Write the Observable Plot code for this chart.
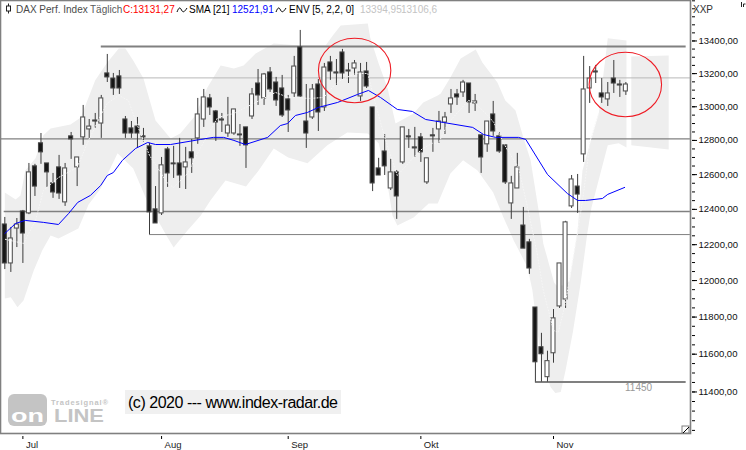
<!DOCTYPE html>
<html><head><meta charset="utf-8">
<style>html,body{margin:0;padding:0;background:#fff}svg{display:block}</style>
<script src="https://cdn.jsdelivr.net/npm/d3@7"></script>
<script src="https://cdn.jsdelivr.net/npm/@observablehq/plot@0.6"></script>
</head><body><div id="chart"></div>
<script>
const opens=[12314,12095,12291,12388,12377,12648,12783,12665,12549,12642,12440,12824,12642,12818,12865,12918,12900,13201,13170,13183,12924,12871,12882,12824,12765,12400,12377,12747,12665,12665,12642,12730,12812,12924,13050,12972,12924,12841,12841,12835,12877,12942,13140,13050,13207,13146,13110,13044,13080,13360,12912,12936,13134,12996,13268,13207,13329,13219,13231,13062,13213,12996,12636,12735,12520,12613,12671,12824,12759,12818,12555,12830,12865,12906,13014,13074,13086,13140,13020,12830,12777,12954,12824,12771,12434,12520,12308,12213,11852,11637,11478,11605,11858,11896,12417,12531,12718,13110,13213,13080,13044,13170,13134,13092];
const closes=[12095,12235,12314,12263,12613,12531,12730,12613,12497,12491,12636,12806,12700,12936,12882,12912,13050,13177,13110,13110,12841,12841,12841,12818,12383,12320,12654,12607,12660,12595,12671,12695,12954,13056,12996,12906,12918,12888,12984,12830,12771,13074,13068,13195,13104,13038,12948,12978,13243,13062,12841,13104,12966,13237,13213,13201,13201,13213,13262,13207,13122,12549,12595,12648,12613,12474,12877,12818,12753,12730,12695,12824,12912,12936,13050,13056,13146,13026,13032,12700,12912,12853,12735,12555,12549,12642,12178,12067,11557,11600,11563,11793,12095,12326,12572,12485,13104,13170,13207,13056,13080,13140,13128,13134];
const highs=[12354,12297,12348,12394,12665,12660,12841,12665,12607,12712,12665,12847,12700,13008,12924,12960,13068,13317,13201,13219,12942,12912,12936,12871,12783,12531,12700,12759,12765,12812,12759,12806,13050,13104,13074,12978,12960,13056,12984,12894,12877,13110,13225,13201,13237,13177,13189,13068,13305,13465,13134,13134,13164,13262,13305,13286,13348,13262,13280,13262,13268,12996,12695,12835,12689,12624,12877,12865,12877,12841,12695,12871,12972,12966,13104,13104,13159,13140,13074,12830,12912,13032,12847,12771,12590,12724,12411,12230,11852,11712,11616,11841,12095,12332,12595,12601,13305,13243,13250,13170,13146,13280,13159,13146];
const lows=[12061,12045,12184,12095,12370,12474,12660,12526,12463,12457,12417,12689,12531,12771,12812,12871,12812,13146,13068,13074,12812,12812,12753,12788,12257,12320,12365,12526,12578,12520,12514,12607,12777,12877,12948,12794,12847,12818,12830,12765,12636,12924,13008,13008,13086,13002,12936,12847,13056,13056,12753,12924,12853,12972,13159,13128,13164,13140,13189,13032,13110,12502,12595,12595,12508,12343,12660,12753,12700,12671,12543,12730,12783,12835,12960,13008,13056,12960,12972,12607,12730,12824,12724,12543,12343,12520,12178,12034,11452,11452,11452,11552,11847,11847,12405,12377,12671,13020,13140,13020,13002,13080,13056,13068];

const smaDay=[0,1.8,3.4,6.4,8.9,10.6,12.1,14.2,15.9,17,18,19.5,21.7,23.7,25,27.5,32.5,34.6,36.3,38,39.9,43.6,45.7,46.9,48.2,50.2,52,55.2,58.5,60.3,62.3,65.1,67.6,69.8,72.8,77.6,79.4,81.4,85.2,86.4,90,93.3,95,96.3,99.1,100,102.8];
const smaVal=[12263,12320,12337,12326,12314,12377,12440,12480,12537,12595,12612,12683,12753,12788,12776,12776,12806,12818,12818,12800,12776,12818,12888,12900,12948,12966,12996,13026,13074,13098,13056,12984,12972,12924,12906,12877,12835,12818,12818,12806,12601,12491,12451,12451,12462,12486,12526];

const midDay=[0.1,3.1,5.1,6.4,8.9,12,13.9,15.9,17,18.9,20.5,22,24,27,28,30.3,32.5,35.3,38,44.9,47,50.7,52.9,54.9,56,58.2,60.2,61.2,62.9,65.1,68.1,69.3,70.9,71.9,73.6,76.9,77.9,80.1,81.1,83.1,85.2,86.7,88.3,89.3,91,91.8,93,95,96,97.1,98.5];
const midVal=[12230,12207,12337,12508,12583,12642,12800,12948,13020,13068,13038,12888,12712,12549,12525,12607,12759,12936,12960,13086,13056,13050,13056,13140,13165,13201,13201,13056,12830,12595,12712,12753,12783,12783,12906,13038,13026,12948,12906,12759,12642,12411,12150,11946,11728,11717,11880,12269,12497,12800,12960];

const upperDay=[0,1.8,2.6,3.4,5.1,6.4,7.6,10.9,12.6,15,17,18.9,20,21.3,23,25,27.5,29.1,31.6,33.6,35.8,38,39.6,41.6,44.6,49,53.2,54.4,55.7,60.2,60.6,62,63.5,64.8,67.8,69.4,71.8,72.3,73.9,75.6,78.1,79.2,81.7,83,84.7,86,87.2,88.8,89.3,91.1,91.5,92.9,93.7,95,95.8,98.5,100,103.1];
const upperVal=[12497,12457,12480,12624,12695,12830,12871,12894,12936,13159,13268,13354,13354,13280,13170,12918,12812,12841,12948,13116,13250,13231,13250,13323,13385,13372,13372,13434,13496,13508,13422,13262,13110,12900,12960,13026,13068,13079,13176,13292,13348,13268,13146,13038,12978,12818,12683,12337,12207,11990,11973,11973,12001,12280,12624,12960,13416,13403];
const lowerDay=[103.1,101.8,100,97.3,96.6,95.5,94.2,93,92.2,91.3,90.5,88.8,87.5,86.7,84.4,82.7,81,78.4,76,73.9,71.8,70.3,67.8,65.1,64.3,63.1,62,60.2,56.8,53.5,50.2,47,44.6,42.1,40,36.6,34.1,32.5,30.3,28,27,23.7,21.3,18.7,15.9,13.9,12.2,8.9,7.6,6.2,4.8,3.1,2.1,1,0];
const lowerVal=[12759,12783,12771,12411,12263,11985,11717,11515,11400,11394,11426,11605,11946,12073,12224,12354,12497,12624,12683,12607,12434,12434,12354,12308,12365,12624,12783,12841,12847,12771,12666,12700,12753,12624,12531,12566,12451,12365,12280,12184,12241,12440,12635,12724,12520,12428,12291,12235,12252,12167,12056,11891,11853,11908,11902];
const forwardDay=[103.9,110.1,110.1,103.9];
const forwardVal=[13305,13311,12747,12771];

const levelVal=[13366,13174,12809,12388,12257,11452];
const levelStart=[16,19,-0.7,-0.1,24,88];
const levelEnd=[113,113.7,113.7,113.7,113.7,113];
const levelColor=["#808080","#b9b9b9","#808080","#808080","#808080","#808080"];
const levelWidth=[2,1,1.3,1.3,1,2];

const yMajor=[13400,13200,13000,12800,12600,12400,12200,12000,11800,11600,11400];
const monthDay=[3,26,47,69,91];
const monthName=["Jul","Aug","Sep","Okt","Nov"];
const circleDay=[58.1,103];
const circleVal=[13216,13131];

const ui="Tahoma,'Liberation Sans',sans-serif";
const candles=opens.map((o,i)=>({i,o,c:closes[i],h:highs[i],l:lows[i]}));
const band=[...upperDay.map((d,i)=>({d,v:upperVal[i],z:"a"})),...lowerDay.map((d,i)=>({d,v:lowerVal[i],z:"a"})),...forwardDay.map((d,i)=>({d,v:forwardVal[i],z:"b"}))];
const sma=smaDay.map((d,i)=>({d,v:smaVal[i]}));
const mid=midDay.map((d,i)=>({d,v:midVal[i]}));
const levels=levelVal.map((v,i)=>({v,a:levelStart[i],b:levelEnd[i],s:levelColor[i],w:levelWidth[i]}));

function header(){
  const g=d3.create("svg:g").attr("font-family",ui).attr("font-size",10).attr("text-anchor","start");
  const t=(x,s,f)=>g.append("text").attr("x",x).attr("y",13).attr("fill",f).text(s);
  t(16,"DAX Perf. Index","#4a4a4a");t(90,"Täglich","#5a5a5a");t(123,"C:13131,27","#ff0000");
  t(189,"SMA [21]","#000");t(232,"12521,91","#0000ff");
  t(289,"ENV [5, 2,2, 0]","#000");t(360,"13394,95","#c4c4c4");t(401,"13106,6","#c4c4c4");
  t(693,"XXP","#333");
  g.append("path").attr("d","M8.5 3.5V6M8.5 11V13.5").attr("stroke","#222").attr("fill","none");
  g.append("rect").attr("x",6.5).attr("y",6).attr("width",4).attr("height",5).attr("fill","#fff").attr("stroke","#222");
  for(const x of [177,276]) g.append("path").attr("d",`M${x} 12c2-5 3-5 4.500-2s3 2 5.500-2`).attr("fill","none").attr("stroke","#000");
  return g.node();
}
function logo(){
  const g=d3.create("svg:g").attr("font-family","'Liberation Sans',sans-serif").attr("font-weight",700).attr("text-anchor","start");
  g.append("rect").attr("x",8).attr("y",394).attr("width",39).attr("height",32).attr("rx",6).attr("fill","#c4c4c4");
  g.append("text").attr("x",11).attr("y",422).attr("font-size",19).attr("fill","#fff").attr("textLength",33).attr("lengthAdjust","spacingAndGlyphs").text("on");
  g.append("text").attr("x",54).attr("y",422).attr("font-size",18).attr("fill","#c4c4c4").attr("textLength",50).attr("lengthAdjust","spacingAndGlyphs").text("LINE");
  g.append("text").attr("x",51).attr("y",405).attr("font-size",7.5).attr("fill","#c4c4c4").attr("textLength",57).text("Tradesignal®");
  return g.node();
}
function notice(){
  const g=d3.create("svg:g").attr("text-anchor","start");
  g.append("rect").attr("x",125).attr("y",390).attr("width",216).attr("height",24).attr("fill","#f0f0f0");
  g.append("text").attr("x",128).attr("y",408).attr("font-family",ui).attr("font-size",16).attr("fill","#000").attr("textLength",210).text("(c) 2020 --- www.index-radar.de");
  g.append("text").attr("x",625).attr("y",391).attr("font-family",ui).attr("font-size",10).attr("fill","#999").text("11450");
  g.append("rect").attr("x",682).attr("y",426).attr("width",7).attr("height",7).attr("fill","#fff").attr("stroke","#808080");
  g.append("path").attr("d","M683 433L689 427").attr("stroke","#000").attr("fill","none");
  g.append("path").attr("d","M741.500 7V2M743.500 7V4H745.500").attr("stroke","#222").attr("fill","none");
  return g.node();
}
function circles(index,scales){
  const g=d3.create("svg:g");
  circleDay.forEach((d,i)=>g.append("ellipse").attr("cx",scales.x(d)).attr("cy",scales.y(circleVal[i])).attr("rx",36.2).attr("ry",32.2).attr("fill","none").attr("stroke","#ee1c25").attr("stroke-width",1.1));
  return g.node();
}

const chart=Plot.plot({
  width:746,height:450,marginLeft:0,marginRight:56,marginTop:0,marginBottom:17,
  style:{background:"#fff",fontFamily:ui,fontSize:"9.5px",overflow:"visible"},
  x:{type:"linear",domain:[-0.713,113.72],axis:null},
  y:{type:"log",domain:[11184,13652],axis:null},
  marks:[
    Plot.line(band,{x:"d",y:"v",z:"z",fill:"#eeeeee",stroke:null}),
    Plot.ruleY(levels,{y:"v",x1:"a",x2:"b",stroke:"s",strokeWidth:"w"}),
    Plot.ruleX(candles,{x:"i",y1:"l",y2:"h",stroke:"#3c3c3c",strokeWidth:1}),
    Plot.rect(candles,{x1:d=>d.i-0.33,x2:d=>d.i+0.33,y1:"o",y2:"c",fill:d=>d.c>d.o?"#fff":"#161616",stroke:d=>d.c>d.o?"#555":"#444",strokeWidth:1.1}),
    Plot.line(mid,{x:"d",y:"v",stroke:"#f6f6f6",strokeWidth:1,strokeDasharray:"1,2"}),
    Plot.line(sma,{x:"d",y:"v",stroke:"#0000ff",strokeWidth:1}),
    circles,
    Plot.frame({stroke:"#808080",strokeWidth:1.6}),
    Plot.axisY(d3.range(11200,13651,50),{anchor:"right",tickSize:3,dx:1,tickFormat:()=>"",label:null,stroke:"#000"}),
    Plot.axisY(yMajor,{anchor:"right",tickSize:5,tickPadding:2,dx:1,textAnchor:"start",tickFormat:d=>d+",00",label:null,fill:"#111",stroke:"#000",fontSize:9.5}),
    Plot.axisX(monthDay,{anchor:"bottom",tickSize:3,dy:3,tickFormat:()=>"",label:null,stroke:"#000"}),
    Plot.text(monthDay,{x:d=>d,text:(d,i)=>monthName[i],frameAnchor:"bottom",dy:14,dx:3,textAnchor:"start",fill:"#222",fontSize:9.5}),
    logo,notice,header
  ]
});
document.getElementById("chart").appendChild(chart);
</script></body></html>
